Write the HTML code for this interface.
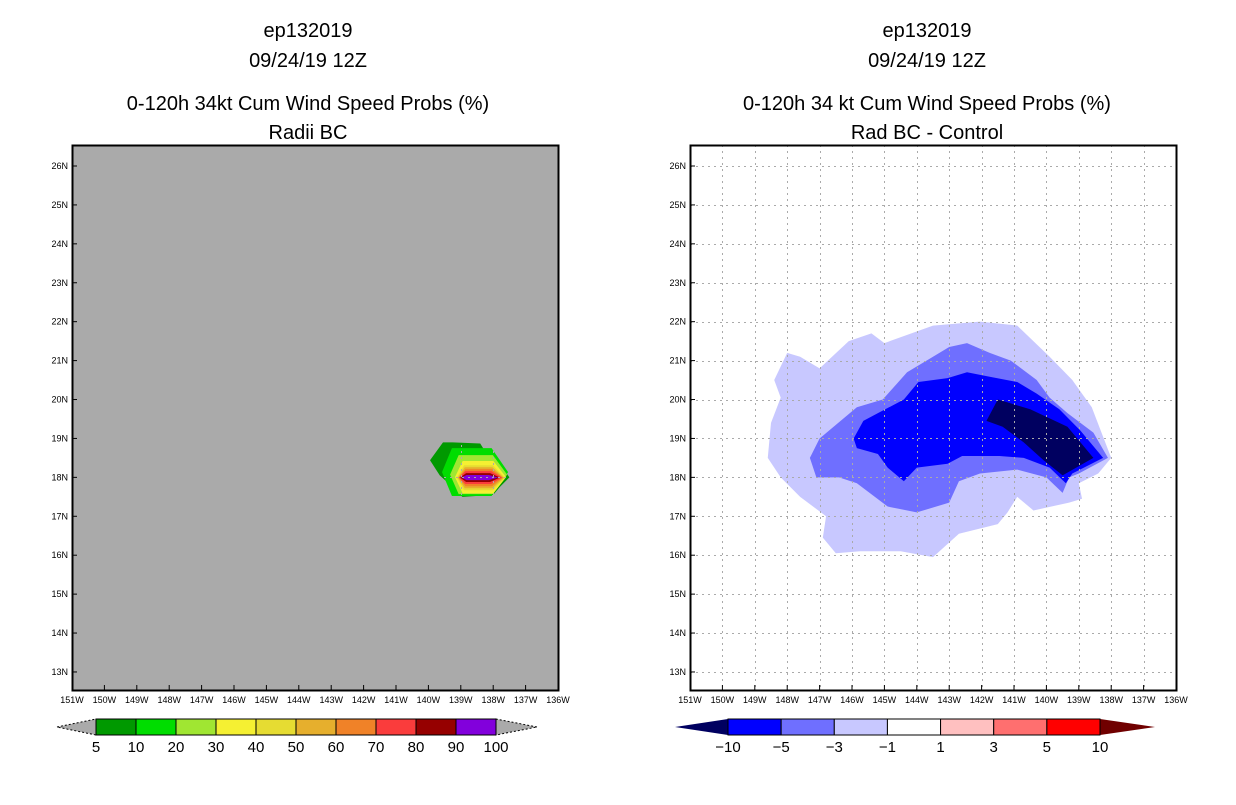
<!DOCTYPE html>
<html><head><meta charset="utf-8"><style>
body{margin:0;background:#fff;width:1236px;height:800px;overflow:hidden;font-family:"Liberation Sans",sans-serif}
svg text{font-family:"Liberation Sans",sans-serif}
</style></head><body>
<svg id="s" width="1236" height="800" xmlns="http://www.w3.org/2000/svg">
<g font-size="20" text-anchor="middle" fill="#000">
<text x="308" y="37">ep132019</text><text x="308" y="67">09/24/19 12Z</text>
<text x="308" y="110">0-120h 34kt Cum Wind Speed Probs (%)</text><text x="308" y="139">Radii BC</text></g>
<g font-size="20" text-anchor="middle" fill="#000">
<text x="927" y="37">ep132019</text><text x="927" y="67">09/24/19 12Z</text>
<text x="927" y="110">0-120h 34 kt Cum Wind Speed Probs (%)</text><text x="927" y="139">Rad BC - Control</text></g>
</svg>
<script>
const lonTicks=[151,150,149,148,147,146,145,144,143,142,141,140,139,138,137,136];
const latTicks=[26,25,24,23,22,21,20,19,18,17,16,15,14,13];
// left: probability layers as boxes [lonW_left, lonW_right, lat_top, lat_bottom]
const probLevels=[5,10,20,30,40,50,60,70,80,90,100];
const probColors=['#009900','#00dd00','#a0e632','#f5f032','#e6dc32','#e6af2d','#f08228','#fa3c3c','#960000','#8200dc'];
const probBoxes=[[139.58,137.54,18.75,17.52],[139.33,137.57,18.57,17.57],[139.18,137.6,18.42,17.59],[139.12,137.64,18.31,17.67],[139.09,137.67,18.26,17.72],[139.06,137.7,18.21,17.77],[139.06,137.73,18.16,17.83],[139.02,137.79,18.11,17.88],[138.99,137.85,18.06,17.93]];
const outerGreen=[[139.95,18.44],[139.55,18.9],[139.25,18.9],[138.4,18.87],[138.2,18.6],[137.8,18.35],[137.5,18.0],[137.8,17.75],[138.0,17.55],[138.95,17.5],[139.25,17.75],[139.65,18.05]];
// right: difference contours (lonW, lat)
const diffLevels=[-10,-5,-3,-1,1,3,5,10];
const diffColors=['#000060','#0000ff','#6f6fff','#c8c8ff','#ffffff','#ffc0c0','#ff6f6f','#ff0000','#700000'];
const diffMinus1=[[148.4,20.5],[148.0,21.2],[147.6,21.1],[147.0,20.8],[146.1,21.5],[145.4,21.7],[145.0,21.45],[143.5,21.9],[142.05,22.0],[140.9,21.9],[139.9,21.1],[139.2,20.5],[138.6,19.8],[138.0,18.5],[138.4,18.1],[139.0,17.85],[138.9,17.45],[139.3,17.35],[140.4,17.15],[140.9,17.5],[141.2,17.1],[141.5,16.8],[142.7,16.55],[143.5,15.95],[144.5,16.1],[145.75,16.1],[146.5,16.05],[146.9,16.45],[146.8,17.0],[147.6,17.5],[148.2,18.0],[148.6,18.5],[148.5,19.4],[148.2,20.05]];
const diffMinus3=[[147.3,18.5],[147.0,19.0],[145.85,19.8],[145.05,20.0],[144.3,20.7],[143.7,21.0],[143.0,21.35],[142.45,21.45],[141.75,21.2],[141.1,21.0],[140.3,20.5],[139.9,20.05],[139.35,19.65],[138.55,19.15],[138.1,18.5],[139.0,18.1],[139.3,18.0],[139.5,17.6],[140.0,18.0],[140.9,18.2],[142.05,18.1],[142.7,17.9],[143.0,17.35],[144.0,17.1],[144.9,17.25],[145.85,17.85],[146.4,18.0],[147.1,18.0]];
const diffMinus5=[[145.95,19.0],[145.65,19.45],[145.2,19.65],[144.4,20.0],[143.95,20.45],[143.05,20.55],[142.45,20.7],[141.85,20.6],[140.9,20.45],[140.3,20.15],[139.6,19.75],[138.95,19.2],[138.25,18.5],[139.2,18.1],[139.4,17.85],[139.9,18.25],[140.7,18.5],[141.45,18.55],[142.6,18.55],[143.05,18.35],[144.0,18.25],[144.4,17.9],[144.9,18.25],[145.2,18.6],[145.85,18.75]];
const diffMinus10=[[141.85,19.45],[141.5,20.0],[140.5,19.75],[139.35,19.3],[138.55,18.5],[139.5,18.05],[140.1,18.45],[140.7,18.9],[141.35,19.3]];

const NS='http://www.w3.org/2000/svg', svg=document.getElementById('s');
function mk(t,a,p){const e=document.createElementNS(NS,t);for(const k in a)e.setAttribute(k,a[k]);(p||svg).appendChild(e);return e;}
const PY0=145,PY1=690;
function yS(lat){return 166+(26-lat)*38.92;}
function makePlot(x0,bg,name){
  const g=mk('g',{});
  
  
  const xS=lw=>x0+(151-lw)*32.4;
  const r=mk('rect',{x:x0,y:PY0,width:486,height:PY1-PY0,fill:bg},g);
  
  
  return {g,xS};
}
function poly(pts,xS,fill,g,name){
  const p=mk('polygon',{points:pts.map(q=>xS(q[0])+','+yS(q[1])).join(' '),fill:fill},g);
  
  
}
function frame(P,x0,gridCol){
  const gg=mk('g',{stroke:gridCol,'stroke-width':1,'stroke-dasharray':'2,4'},P.g);
  
  
  lonTicks.slice(1,-1).forEach(l=>{const x=Math.round(P.xS(l))+.5;mk('line',{x1:x,x2:x,y1:PY0,y2:PY1},gg);});
  latTicks.forEach(l=>{const y=Math.round(yS(l))+.5;mk('line',{x1:x0,x2:x0+486,y1:y,y2:y},gg);});
  const b=mk('rect',{x:x0+.5,y:PY0+.5,width:486,height:PY1-PY0,fill:'none',stroke:'#000','stroke-width':2},P.g);
  
  
  const tg=mk('g',{'font-size':9,fill:'#000'},P.g);
  
  
  lonTicks.forEach(l=>{const x=P.xS(l);mk('line',{x1:x,x2:x,y1:PY1,y2:PY1-5,stroke:'#000'},tg);
    const t=mk('text',{x:x,y:PY1+13,'text-anchor':'middle'},tg);t.textContent=l+'W';
    });
  latTicks.forEach(l=>{const y=yS(l);mk('line',{x1:x0,x2:x0+5,y1:y,y2:y,stroke:'#000'},tg);
    const t=mk('text',{x:x0-4,y:y+3,'text-anchor':'end'},tg);t.textContent=l+'N';
    });
}
// Left plot
const L=makePlot(72,'#aaaaaa','radii-bc-plot');
poly(outerGreen,L.xS,probColors[0],L.g,'prob-contour-5');
probBoxes.forEach((b,i)=>{
  const [l,r,t,bt]=b,w=l-r,m=(t+bt)/2;
  poly([[l,m],[l-w*0.15,t],[r+w*0.25,t],[r,m],[r+w*0.25,bt],[l-w*0.15,bt]],L.xS,probColors[i+1],L.g,'prob-contour-'+probLevels[i+1]);
});
frame(L,72,'#aaaaaa');
// Right plot
const R=makePlot(690,'#ffffff','rad-bc-minus-control-plot');
poly(diffMinus1,R.xS,diffColors[3],R.g,'diff-contour-minus1');
poly(diffMinus3,R.xS,diffColors[2],R.g,'diff-contour-minus3');
poly(diffMinus5,R.xS,diffColors[1],R.g,'diff-contour-minus5');
poly(diffMinus10,R.xS,diffColors[0],R.g,'diff-contour-minus10');
frame(R,690,'#aaaaaa');
// colorbars
function colorbar(tipL,bx0,bx1,tipR,levels,cols,leftTip,rightTip,name,dash){
  const g=mk('g',{});
  
  
  const y0=719,y1=735,ym=727,n=levels.length-1,w=(bx1-bx0)/n;
  mk('polygon',{points:`${tipL},${ym} ${bx0},${y0} ${bx0},${y1}`,fill:leftTip,stroke:dash?'#000':'none','stroke-dasharray':dash?'2,2':''},g);
  mk('polygon',{points:`${tipR},${ym} ${bx1},${y0} ${bx1},${y1}`,fill:rightTip,stroke:dash?'#000':'none','stroke-dasharray':dash?'2,2':''},g);
  for(let i=0;i<n;i++){const b=mk('rect',{x:bx0+i*w,y:y0,width:w,height:y1-y0,fill:cols[i],stroke:'#000','stroke-width':1},g);
    }
  levels.forEach((v,i)=>{const t=mk('text',{x:bx0+i*w,y:752,'text-anchor':'middle','font-size':15},g);
    t.textContent=v<0?'\u2212'+(-v):v;});
}
colorbar(57,96,496,537,probLevels,probColors,'#aaaaaa','#aaaaaa','prob-colorbar',true);
colorbar(675,728,1100,1155,diffLevels,diffColors.slice(1,8),diffColors[0],diffColors[8],'diff-colorbar',false);
</script>
</body></html>
